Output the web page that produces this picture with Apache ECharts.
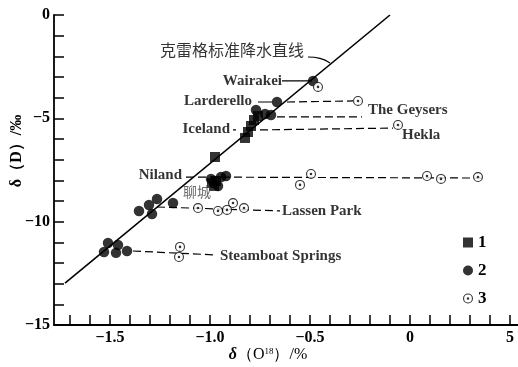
<!DOCTYPE html>
<html><head><meta charset="utf-8">
<script src="https://cdn.jsdelivr.net/npm/echarts@6/dist/echarts.min.js"></script>
<style>html,body{margin:0;padding:0;background:#fff}#c{width:518px;height:367px}</style>
</head><body><div id="c"></div>
<script>
// ---- data ----
const series1Squares = [[-0.975,-6.87],[-0.825,-5.95],[-0.81,-5.66],[-0.795,-5.37],[-0.78,-5.08],[-0.76,-4.89],[-0.99,-8.13],[-0.97,-8.03],[-0.98,-8.27]];
const series2Dots = [[-0.485,-3.19],[-0.665,-4.21],[-0.77,-4.60],[-0.725,-4.79],[-0.695,-4.84],
  [-0.945,-7.84],[-0.92,-7.79],[-0.995,-7.93],[-0.96,-8.27],
  [-1.355,-9.48],[-1.305,-9.19],[-1.29,-9.63],[-1.265,-8.9],[-1.185,-9.1],
  [-1.53,-11.47],[-1.51,-11.03],[-1.47,-11.51],[-1.46,-11.13],[-1.415,-11.42]];
const series3Rings = [[-0.46,-3.48],[-0.26,-4.16],[-0.06,-5.32],
  [-0.55,-8.22],[-0.495,-7.69],[0.085,-7.79],[0.155,-7.93],[0.34,-7.84],
  [-1.06,-9.34],[-0.96,-9.48],[-0.915,-9.43],[-0.885,-9.1],[-0.83,-9.34],
  [-1.15,-11.22],[-1.155,-11.71]];
const craigLine = [[-1.725,-12.97],[-0.1,0]];
const craigLeader = [[-0.51,-2.03],[-0.45,-2.10],[-0.40,-2.32]];
const solidLeaders = [[[-0.64,-3.19],[-0.49,-3.19]],[[-0.76,-4.21],[-0.69,-4.21]],[[-0.885,-5.56],[-0.87,-5.56]]];
const dashedLeaders = [[[-0.615,-4.21],[-0.285,-4.16]],[[-0.665,-4.93],[-0.24,-4.93]],[[-0.75,-5.56],[-0.085,-5.47]],
  [[-1.12,-7.84],[0.365,-7.89]],[[-1.265,-9.29],[-0.65,-9.48]],[[-1.385,-11.42],[-0.975,-11.61]]];
const annoText = ['Wairakei','Larderello','Iceland','Niland','The Geysers','Hekla','Lassen Park','Steamboat Springs','聊城','克雷格标准降水直线'];
const annoX = [-0.64,-0.79,-0.90,-1.14,-0.21,-0.04,-0.64,-0.95,-1.065,-0.89];
const annoY = [-3.19,-4.16,-5.52,-7.74,-4.60,-5.81,-9.48,-11.66,-8.56,-1.69];
const annoSide = ['left','left','left','left','right','right','right','right','inside','inside'];
const legendNames = ['1','2','3'];
const xTickValues = [-1.7,-1.6,-1.5,-1.4,-1.3,-1.2,-1.1,-1.0,-0.9,-0.8,-0.7,-0.6,-0.5,-0.4,-0.3,-0.2,-0.1,0,0.1,0.2,0.3,0.4,0.5];
const xLabelValues = [-1.5,-1.0,-0.5,0,0.5];
const xLabelTexts = ['−1.5','−1.0','−0.5','0','5'];
const yTickValues = [-15,-14,-13,-12,-11,-10,-9,-8,-7,-6,-5,-4,-3,-2,-1,0];
const yLabelValues = [-15,-10,-5,0];
const yLabelTexts = ['−15','−10','−5','0'];
const xAxisTitle = ['δ','（O','18','）/%'];
const yAxisTitle = 'δ（D）/‰';

// ---- chart ----
const RING = 'path://M10,0 A10,10 0 1,1 10,20 A10,10 0 1,1 10,0 Z M10,2.2 A7.8,7.8 0 1,0 10,17.8 A7.8,7.8 0 1,0 10,2.2 Z M10,7.4 A2.6,2.6 0 1,1 10,12.6 A2.6,2.6 0 1,1 10,7.4 Z';
const SERIF = '"Liberation Serif","Times New Roman",serif';
const CJK = '"Noto Sans CJK SC",sans-serif';
const chart = echarts.init(document.getElementById('c'), null, {renderer:'canvas'});
function lookup(vals, texts, v){ for (let i=0;i<vals.length;i++) if (Math.abs(vals[i]-v)<1e-6) return texts[i]; return ''; }

const series = [];
series.push({type:'line', data:craigLine, symbol:'none', silent:true, lineStyle:{color:'#000', width:1.6}, z:2});
series.push({type:'line', data:craigLeader, smooth:true, symbol:'none', silent:true, lineStyle:{color:'#000', width:1.1}, z:2});
solidLeaders.forEach(seg => series.push({type:'line', data:seg, symbol:'none', silent:true, lineStyle:{color:'#000', width:1.2}, z:2}));
dashedLeaders.forEach(seg => series.push({type:'line', data:seg, symbol:'none', silent:true, lineStyle:{color:'#000', width:1.2, type:[8,4]}, z:2}));
series.push({name:'1', type:'scatter', data:series1Squares, symbol:'rect', symbolSize:10, itemStyle:{color:'#000'}, z:3});
series.push({name:'2', type:'scatter', data:series2Dots, symbol:'circle', symbolSize:10.5, itemStyle:{color:'#000'}, z:3});
series.push({name:'bg3', type:'scatter', data:series3Rings, symbol:'circle', symbolSize:9, itemStyle:{color:'#fff'}, z:3});
series.push({name:'3', type:'scatter', data:series3Rings, symbol:RING, symbolSize:10, itemStyle:{color:'#000'}, z:4});
series.push({type:'scatter', symbolSize:0, silent:true, z:5,
  data: annoText.map((t,i)=>{
    const cjk = /[\u4e00-\u9fff]/.test(t);
    return {value:[annoX[i],annoY[i]], name:t,
      label:{show:true, position:annoSide[i], distance:0, formatter:t,
        fontFamily: cjk ? CJK : SERIF,
        fontWeight: cjk ? 'normal' : 'bold',
        fontSize: t==='聊城' ? 14 : (cjk ? 16 : 15),
        color: t==='聊城' ? '#444' : '#000'}};
  })
});

chart.setOption({
  animation:false,
  backgroundColor:'#fff',
  grid:{left:54, right:0, top:15, bottom:42, containLabel:false},
  legend:{orient:'vertical', left:458, top:229, itemWidth:10, itemHeight:10, itemGap:11,
    data:legendNames.map((n,i)=>({name:n, icon:['rect','circle',RING][i]})),
    textStyle:{fontFamily:SERIF, fontSize:17, fontWeight:'bold', color:'#000', lineHeight:17}},
  xAxis:{type:'value', min:-1.78, max:0.54,
    axisLine:{onZero:false, lineStyle:{color:'#000', width:1.8}},
    axisTick:{inside:true, length:10, customValues:xTickValues, lineStyle:{color:'#000', width:1.5}},
    axisLabel:{customValues:xLabelValues, formatter:v=>lookup(xLabelValues,xLabelTexts,v), fontFamily:SERIF, fontWeight:'bold', fontSize:16, color:'#000', margin:5},
    splitLine:{show:false}},
  yAxis:{type:'value', min:-15, max:0,
    axisLine:{onZero:false, lineStyle:{color:'#000', width:1.8}},
    axisTick:{inside:true, length:10, customValues:yTickValues, lineStyle:{color:'#000', width:1.5}},
    axisLabel:{customValues:yLabelValues, formatter:v=>lookup(yLabelValues,yLabelTexts,v), fontFamily:SERIF, fontWeight:'bold', fontSize:16, color:'#000', margin:4},
    splitLine:{show:false}},
  graphic:[
    {type:'text', x:17, y:151, rotation:Math.PI/2,
      style:{text:yAxisTitle, font:'bold 16px '+SERIF, fill:'#000', align:'center', verticalAlign:'middle'}},
    {type:'text', x:268, y:355,
      style:{text:'{d|'+xAxisTitle[0]+'}{n|'+xAxisTitle[1]+'}{s|'+xAxisTitle[2]+'}{n|'+xAxisTitle[3]+'}',
        align:'center', verticalAlign:'middle', fill:'#000',
        rich:{d:{font:'italic bold 16px '+SERIF}, n:{font:'16px '+SERIF}, s:{font:'9px '+SERIF, verticalAlign:'top', padding:[0,0,7,0]}}}}
  ],
  series: series
});
</script></body></html>
